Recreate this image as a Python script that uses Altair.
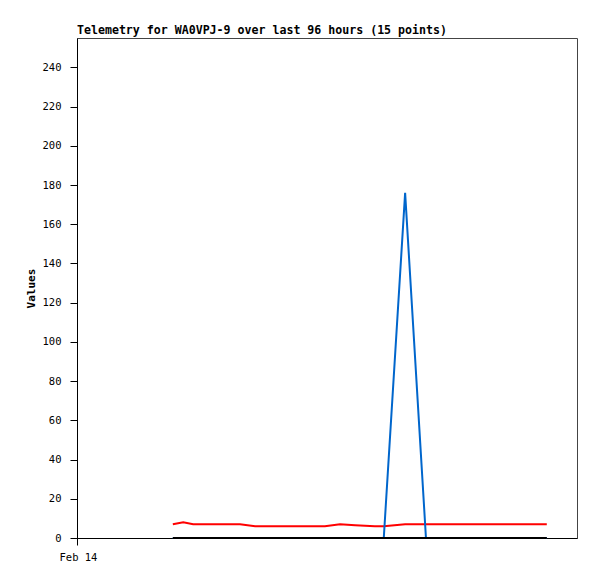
import altair as alt
import pandas as pd

# hours since left edge of the 96-hour window (Feb 14 at 0)
hours = [18.4, 20.4, 22.3, 31.3, 34.2, 40.9, 47.6, 50.5, 53.4, 57.2, 58.9, 63.0, 67.0, 77.4, 90.2]
red_vals = [7.0, 8.0, 7.0, 7.0, 6.0, 6.0, 6.0, 7.0, 6.5, 6.0, 6.0, 7.0, 7.0, 7.0, 7.0]
blue_vals = [0, 0, 0, 0, 0, 0, 0, 0, 0, 0, 0, 176, 0, 0, 0]
black_vals = [0] * 15

y_ticks = list(range(0, 241, 20))

rows = []
for h, r, b, k in zip(hours, red_vals, blue_vals, black_vals):
    rows.append({"h": h, "v": r, "s": "red"})
    rows.append({"h": h, "v": b, "s": "blue"})
    rows.append({"h": h, "v": k, "s": "black"})
df = pd.DataFrame(rows)

x_enc = alt.X("h:Q", scale=alt.Scale(domain=[0, 96], nice=False, zero=False),
              axis=alt.Axis(values=[0], labelExpr="'Feb 14'", title=None, grid=False,
                            domainColor="#000000", tickColor="#000000", tickSize=7,
                            labelFont="DejaVu Sans Mono", labelFontSize=10.5, labelColor="#000000",
                            labelPadding=7, labelAlign="left", labelFlush=False, labelOffset=-18))
y_enc = alt.Y("v:Q", scale=alt.Scale(domain=[0, 255], nice=False),
              axis=alt.Axis(values=y_ticks, title="Values", grid=False,
                            domainColor="#000000", tickColor="#000000", tickSize=7,
                            labelFont="DejaVu Sans Mono", labelFontSize=10.5, labelColor="#000000",
                            labelPadding=9, titleFont="DejaVu Sans Mono", titleFontSize=11,
                            titleFontWeight="bold", titleColor="#000000", titlePadding=6))

base = alt.Chart(df)
layers = []
for name, col in [("red", "#ff0000"), ("blue", "#0066cc"), ("black", "#000000")]:
    layers.append(base.transform_filter(alt.datum.s == name)
                  .mark_line(strokeWidth=2, color=col)
                  .encode(x=x_enc, y=y_enc))

chart = alt.layer(*layers).properties(
    width=500, height=500,
    title=alt.TitleParams("Telemetry for WA0VPJ-9 over last 96 hours (15 points)",
                          anchor="start", frame="group", font="DejaVu Sans Mono", fontSize=11.6,
                          fontWeight="bold", color="#000000", offset=1),
    autosize=alt.AutoSizeParams(type="none"),
    padding={"left": 69, "top": 30, "right": 12, "bottom": 33},
).configure_view(stroke="#444444", strokeWidth=1)

chart.save("out.html", embed_options={"renderer": "svg", "actions": False})
